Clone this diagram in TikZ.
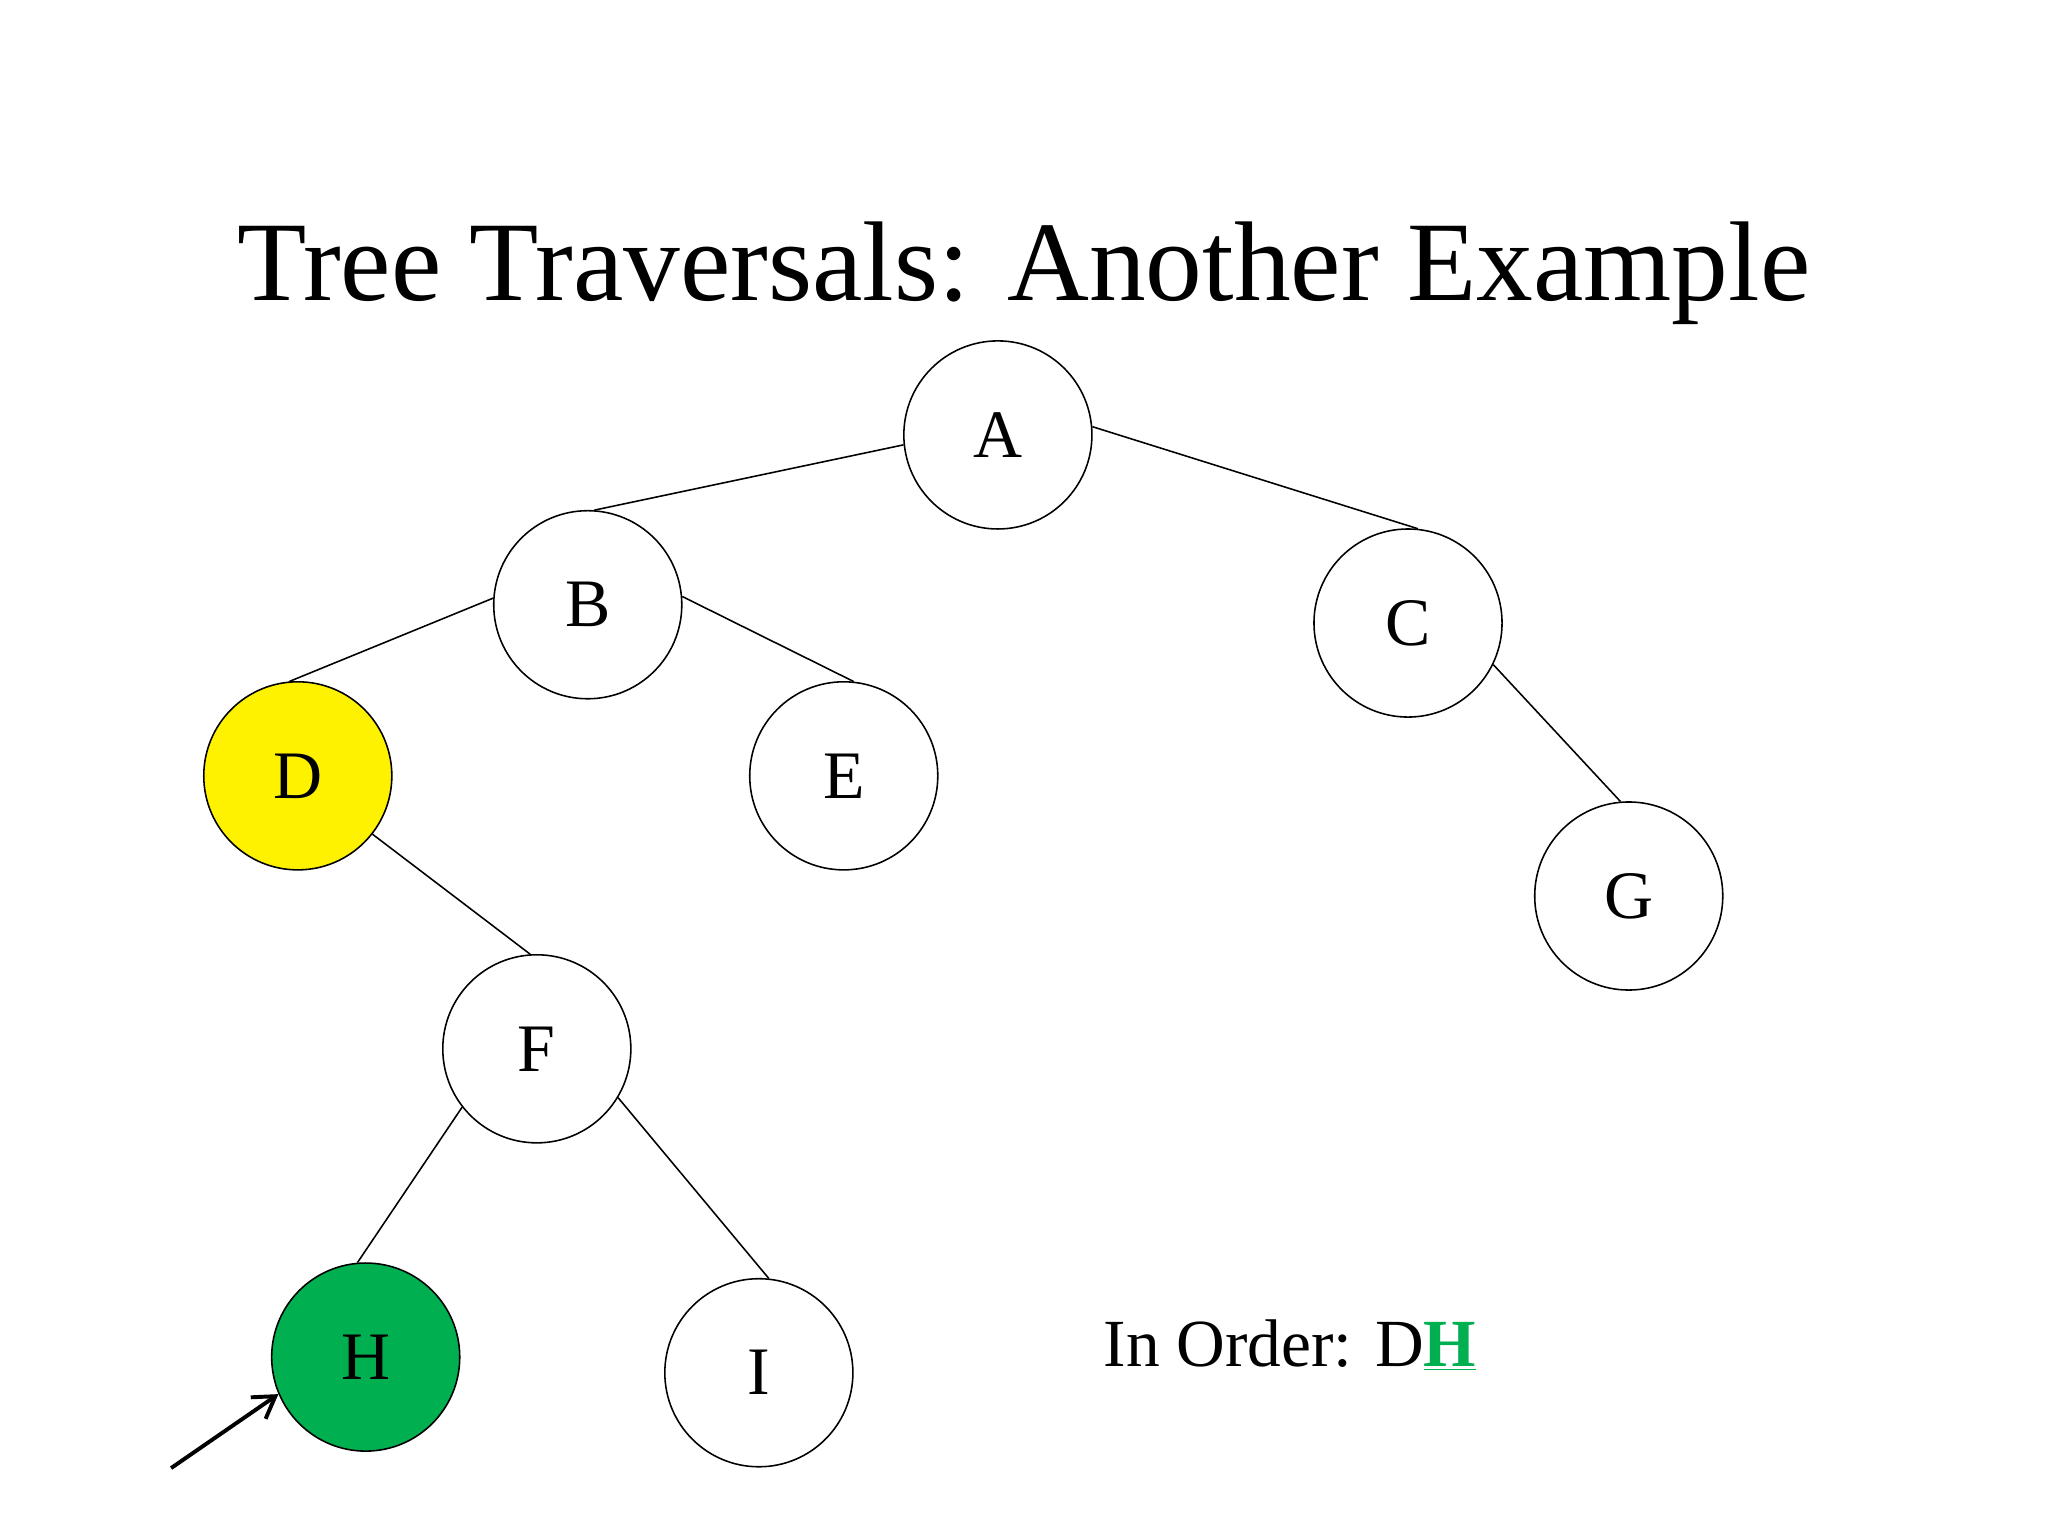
\documentclass[tikz,border=0pt]{standalone}
\usepackage{fontspec}
\setmainfont{Liberation Serif}
\usetikzlibrary{arrows.meta}
\definecolor{hgreen}{HTML}{00B050}
\begin{document}
\begin{tikzpicture}[x=0.5pt,y=-0.5pt,
  tn/.style={circle,draw,line width=0.6pt,minimum size=72pt,inner sep=0pt,font=\fontsize{26}{30}\selectfont},
  ed/.style={line width=0.6pt}]
\useasboundingbox (0,0) rectangle (1568,1176);
\node (title) at (784,209) {\fontsize{43.4}{50}\selectfont Tree Traversals: Another Example};
\node[tn] (A) at (764,333) {A};
\node[tn] (B) at (450,463) {B};
\node[tn] (C) at (1078,477) {C};
\node[tn,fill=yellow] (D) at (228,594) {D};
\node[tn] (E) at (646,594) {E};
\node[tn] (F) at (411,803) {F};
\node[tn] (G) at (1247,686) {G};
\node[tn,fill=hgreen] (H) at (280,1039) {H};
\node[tn] (I) at (581,1051) {I};
\draw[ed] (A.186) -- (B.86);
\draw[ed] (A.5) -- (C.84);
\draw[ed] (B.176) -- (D.95);
\draw[ed] (B.5) -- (E.84);
\draw[ed] (C.-26) -- (G.95);
\draw[ed] (D.-38) -- (F.94);
\draw[ed] (F.218) -- (H.95);
\draw[ed] (F.-31) -- (I.84);
\node[anchor=west,font=\fontsize{25.8}{30}\selectfont] (io) at (838,1030) {In Order: D\textcolor{hgreen}{\textbf{\underline{H}}}};
\coordinate (s) at (131,1124);
\draw[line width=1.5pt,-{Straight Barb[length=8pt,width=10pt]}] (s) -- (H.203);
\end{tikzpicture}
\end{document}
